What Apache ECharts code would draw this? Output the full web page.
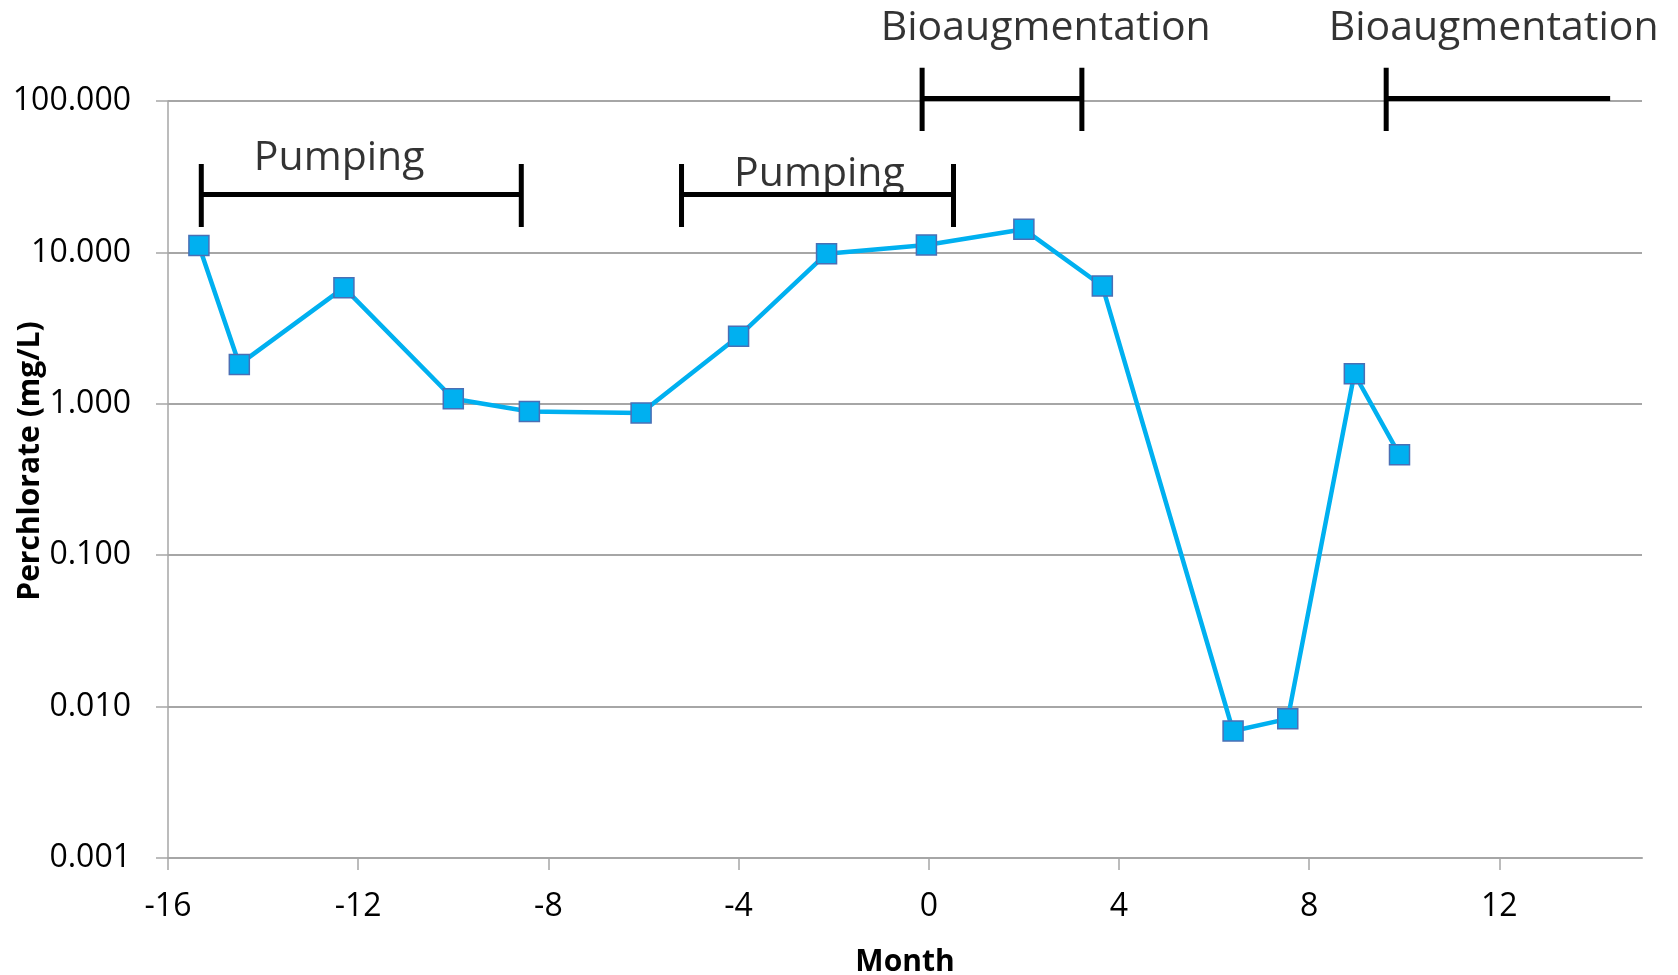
<!DOCTYPE html>
<html><head><meta charset="utf-8">
<script src="https://cdn.jsdelivr.net/npm/echarts@6/dist/echarts.min.js"></script>
<style>html,body{margin:0;padding:0;background:#fff}#c{width:1678px;height:975px}</style>
</head><body><div id="c"></div>
<script>
// Data
const months = [-15.35, -14.5, -12.3, -10, -8.4, -6.05, -4, -2.15, -0.05, 2, 3.65, 6.4, 7.55, 8.95, 9.9];
const perchlorate = [11.1, 1.82, 5.85, 1.08, 0.89, 0.87, 2.79, 9.8, 11.2, 14.2, 6.0, 0.0069, 0.0083, 1.58, 0.46];
const xTicks = [-16, -12, -8, -4, 0, 4, 8, 12];
const yTicks = [0.001, 0.01, 0.1, 1, 10, 100];

// Annotation periods (months) and their labels
const pumpingPeriods = [[-15.3, -8.57], [-5.2, 0.52]];
const pumpingLabelX = [-12.4, -2.3];
const pumpingLabelY = [41.7, 33];
const bioPeriods = [[-0.14, 3.22], [9.62, 14.33]];
const bioHasEnd = [true, false];
const bioLabelX = [2.46, 11.88];
const bioLabelY = [300, 300];
const pumpingText = 'Pumping';
const bioText = 'Bioaugmentation';
const xTitle = 'Month';
const yTitle = 'Perchlorate (mg/L)';

const FONT = 'Open Sans';
const pumpLevels = {top: 38.4, mid: 24.1, bot: 14.7};
const bioLevels = {top: 166, mid: 103.7, bot: 63.4};

function bracket(p, lv, hasEnd) {
  const d = [[p[0], lv.top], [p[0], lv.bot], [p[0], lv.mid], [p[1], lv.mid]];
  if (hasEnd) d.push([p[1], lv.top], [p[1], lv.bot]);
  return {
    type: 'line', data: d, symbol: 'none', clip: false, silent: true, z: 5,
    lineStyle: {color: '#000', width: 5, cap: 'butt', join: 'miter'}
  };
}

const series = [{
  type: 'line',
  data: months.map((m, i) => [m, perchlorate[i]]),
  symbol: 'rect', symbolSize: 20,
  lineStyle: {color: '#00b0f0', width: 4.5},
  itemStyle: {color: '#00b0f0', borderColor: '#4a6fb5', borderWidth: 1.5},
  z: 10
}];
pumpingPeriods.forEach(p => series.push(bracket(p, pumpLevels, true)));
bioPeriods.forEach((p, i) => series.push(bracket(p, bioLevels, bioHasEnd[i])));

const labelData = [];
pumpingLabelX.forEach((x, i) => labelData.push([x, pumpingLabelY[i], pumpingText]));
bioLabelX.forEach((x, i) => labelData.push([x, bioLabelY[i], bioText]));
series.push({
  type: 'scatter', data: labelData, symbolSize: 0, clip: false, silent: true,
  label: {show: true, position: 'inside', formatter: p => p.data[2],
    fontFamily: FONT, fontSize: 41, color: '#000'}
});

const chart = echarts.init(document.getElementById('c'), null, {renderer: 'canvas'});
chart.setOption({
  animation: false,
  backgroundColor: '#fff',
  grid: {left: 168, right: 36, top: 101, bottom: 117, containLabel: false, outerBoundsMode: 'none'},
  graphic: [{
    type: 'text', x: 30, y: 461, rotation: Math.PI / 2,
    style: {text: yTitle, fontFamily: FONT, fontWeight: 'bold', fontSize: 30, fill: '#000',
      align: 'center', verticalAlign: 'middle'}
  }],
  xAxis: {
    type: 'value', min: -16, max: 15,
    name: xTitle, nameLocation: 'middle', nameGap: 89,
    nameTextStyle: {fontFamily: FONT, fontWeight: 'bold', fontSize: 30, color: '#000'},
    axisLine: {show: true, onZero: false, lineStyle: {color: '#a6a6a6', width: 2}},
    axisTick: {show: true, length: 12, customValues: xTicks, lineStyle: {color: '#a6a6a6', width: 1.5}},
    axisLabel: {customValues: xTicks, margin: 33, fontFamily: FONT, fontSize: 32, color: '#000'},
    splitLine: {show: false}
  },
  yAxis: {
    type: 'log', logBase: 10, min: 0.001, max: 100,
    axisLine: {show: true, onZero: false, lineStyle: {color: '#a6a6a6', width: 1.5}},
    axisTick: {show: true, length: 12, lineStyle: {color: '#a6a6a6', width: 1.5}},
    axisLabel: {margin: 37, fontFamily: FONT, fontSize: 32, color: '#000',
      formatter: v => Number(v).toFixed(3)},
    splitLine: {show: true, lineStyle: {color: '#a6a6a6', width: 2}}
  },
  series: series
});
</script></body></html>
